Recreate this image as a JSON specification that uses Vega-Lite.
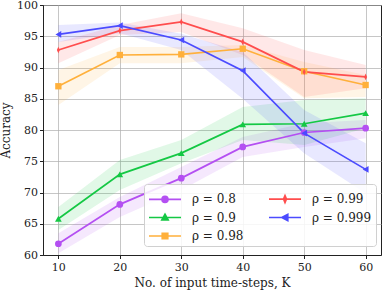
{
  "$schema": "https://vega.github.io/schema/vega-lite/v6.json",
  "width": 338,
  "height": 250,
  "autosize": {"type": "none"},
  "padding": {"left": 43, "top": 5, "right": 1, "bottom": 36},
  "config": {
    "font": "DejaVu Serif",
    "view": {"stroke": "#222", "strokeWidth": 1},
    "axis": {
      "labelFont": "DejaVu Serif",
      "titleFont": "DejaVu Serif",
      "labelFontSize": 11,
      "titleFontSize": 12,
      "titleFontWeight": "normal",
      "labelColor": "#222",
      "titleColor": "#222",
      "gridColor": "#b0b0b0",
      "gridOpacity": 0.9,
      "gridWidth": 0.8,
      "domainColor": "#222",
      "tickColor": "#222",
      "tickSize": 3.5,
      "labelOverlap": false
    }
  },
  "data": {
    "values": [
      {"series": "0.8", "K": 10, "acc": 61.8, "lo": 60.3, "hi": 63.5},
      {"series": "0.8", "K": 20, "acc": 68.1, "lo": 66.1, "hi": 69.3},
      {"series": "0.8", "K": 30, "acc": 72.3, "lo": 70.4, "hi": 74.1},
      {"series": "0.8", "K": 40, "acc": 77.3, "lo": 75.7, "hi": 78.9},
      {"series": "0.8", "K": 50, "acc": 79.6, "lo": 77.3, "hi": 81.1},
      {"series": "0.8", "K": 60, "acc": 80.3, "lo": 78.7, "hi": 81.6},
      {"series": "0.9", "K": 10, "acc": 65.8, "lo": 64.0, "hi": 67.7},
      {"series": "0.9", "K": 20, "acc": 72.9, "lo": 70.4, "hi": 75.2},
      {"series": "0.9", "K": 30, "acc": 76.3, "lo": 74.7, "hi": 78.4},
      {"series": "0.9", "K": 40, "acc": 80.9, "lo": 78.4, "hi": 83.7},
      {"series": "0.9", "K": 50, "acc": 81.0, "lo": 77.6, "hi": 84.8},
      {"series": "0.9", "K": 60, "acc": 82.7, "lo": 80.3, "hi": 85.1},
      {"series": "0.98", "K": 10, "acc": 87.0, "lo": 84.0, "hi": 89.6},
      {"series": "0.98", "K": 20, "acc": 92.0, "lo": 90.7, "hi": 93.3},
      {"series": "0.98", "K": 30, "acc": 92.1, "lo": 90.7, "hi": 93.3},
      {"series": "0.98", "K": 40, "acc": 93.0, "lo": 91.7, "hi": 93.6},
      {"series": "0.98", "K": 50, "acc": 89.4, "lo": 85.1, "hi": 90.9},
      {"series": "0.98", "K": 60, "acc": 87.2, "lo": 85.3, "hi": 88.8},
      {"series": "0.99", "K": 10, "acc": 92.8, "lo": 90.7, "hi": 94.1},
      {"series": "0.99", "K": 20, "acc": 95.9, "lo": 95.2, "hi": 96.8},
      {"series": "0.99", "K": 30, "acc": 97.3, "lo": 95.7, "hi": 98.7},
      {"series": "0.99", "K": 40, "acc": 94.1, "lo": 92.0, "hi": 96.3},
      {"series": "0.99", "K": 50, "acc": 89.3, "lo": 85.3, "hi": 92.8},
      {"series": "0.99", "K": 60, "acc": 88.5, "lo": 86.7, "hi": 90.4},
      {"series": "0.999", "K": 10, "acc": 95.3, "lo": 94.1, "hi": 96.8},
      {"series": "0.999", "K": 20, "acc": 96.7, "lo": 95.5, "hi": 97.2},
      {"series": "0.999", "K": 30, "acc": 94.4, "lo": 92.8, "hi": 95.4},
      {"series": "0.999", "K": 40, "acc": 89.5, "lo": 85.0, "hi": 92.5},
      {"series": "0.999", "K": 50, "acc": 79.5, "lo": 76.3, "hi": 83.2},
      {"series": "0.999", "K": 60, "acc": 73.7, "lo": 69.9, "hi": 77.9}
    ]
  },
  "encoding": {
    "x": {
      "field": "K", "type": "quantitative",
      "scale": {"domain": [7.5, 62.5], "nice": false, "zero": false},
      "axis": {"values": [10, 20, 30, 40, 50, 60], "title": "No. of input time-steps, K", "titlePadding": 5, "labelPadding": 3}
    },
    "y": {
      "field": "acc", "type": "quantitative",
      "scale": {"domain": [60, 100], "nice": false, "zero": false},
      "axis": {"values": [60, 65, 70, 75, 80, 85, 90, 95, 100], "title": "Accuracy", "titlePadding": 4, "labelPadding": 2}
    },
    "color": {
      "field": "series", "type": "nominal",
      "scale": {
        "domain": ["0.8", "0.9", "0.98", "0.99", "0.999"],
        "range": ["#b44ff2", "#14c844", "#ffb03b", "#ff4d4d", "#4b4bff"]
      },
      "legend": {
        "title": null,
        "orient": "none",
        "legendX": 101,
        "legendY": 179,
        "columns": 2,
        "columnPadding": 21,
        "rowPadding": 0.5,
        "padding": 4,
        "fillColor": "rgba(255,255,255,0.85)",
        "strokeColor": "#d0d0d0",
        "cornerRadius": 3,
        "symbolSize": 400,
        "symbolStrokeWidth": 1.6,
        "symbolOpacity": 1,
        "labelFont": "DejaVu Serif",
        "labelFontSize": 12,
        "labelColor": "#222",
        "labelOffset": 22,
        "labelExpr": "'ρ = ' + datum.label",
        "encode": {
          "symbols": {
            "update": {
              "shape": {"signal": "datum.value == '0.8' ? 'M-1,0L2.2,0M0.9,0A0.3,0.3,0,1,1,0.3,0A0.3,0.3,0,1,1,0.9,0Z' : datum.value == '0.9' ? 'M-1,0L2.2,0M0.6,-0.33L0.92,0.25L0.28,0.25Z' : datum.value == '0.98' ? 'M-1,0L2.2,0M0.32,-0.28L0.88,-0.28L0.88,0.28L0.32,0.28Z' : datum.value == '0.99' ? 'M-1,0L2.2,0M0.45,0L0.6,-0.36L0.75,0L0.6,0.36Z' : 'M-1,0L2.2,0M0.28,0L0.88,-0.32L0.88,0.32Z'"},
              "strokeWidth": {"value": 1.6}
            }
          }
        }
      }
    }
  },
  "layer": [
    {
      "mark": {"type": "area", "opacity": 0.13},
      "encoding": {
        "y": {
          "field": "lo", "type": "quantitative",
          "scale": {"domain": [60, 100], "nice": false, "zero": false},
          "axis": {"values": [60, 65, 70, 75, 80, 85, 90, 95, 100], "title": "Accuracy", "titlePadding": 4, "labelPadding": 2}
        },
        "y2": {"field": "hi"}
      }
    },
    {
      "mark": {"type": "line", "strokeWidth": 1.7},
      "encoding": {}
    },
    {
      "transform": [{"filter": {"field": "series", "equal": "0.8"}}],
      "mark": {"type": "point", "filled": true, "opacity": 1, "shape": "circle", "size": 45},
      "encoding": {}
    },
    {
      "transform": [{"filter": {"field": "series", "equal": "0.9"}}],
      "mark": {"type": "point", "filled": true, "opacity": 1, "shape": "triangle-up", "size": 45},
      "encoding": {}
    },
    {
      "transform": [{"filter": {"field": "series", "equal": "0.98"}}],
      "mark": {"type": "point", "filled": true, "opacity": 1, "shape": "square", "size": 40},
      "encoding": {}
    },
    {
      "transform": [{"filter": {"field": "series", "equal": "0.99"}}],
      "mark": {"type": "point", "filled": true, "opacity": 1, "shape": "M-0.45,0L0,-1L0.45,0L0,1Z", "size": 45},
      "encoding": {}
    },
    {
      "transform": [{"filter": {"field": "series", "equal": "0.999"}}],
      "mark": {"type": "point", "filled": true, "opacity": 1, "shape": "triangle-left", "size": 45},
      "encoding": {}
    }
  ]
}
